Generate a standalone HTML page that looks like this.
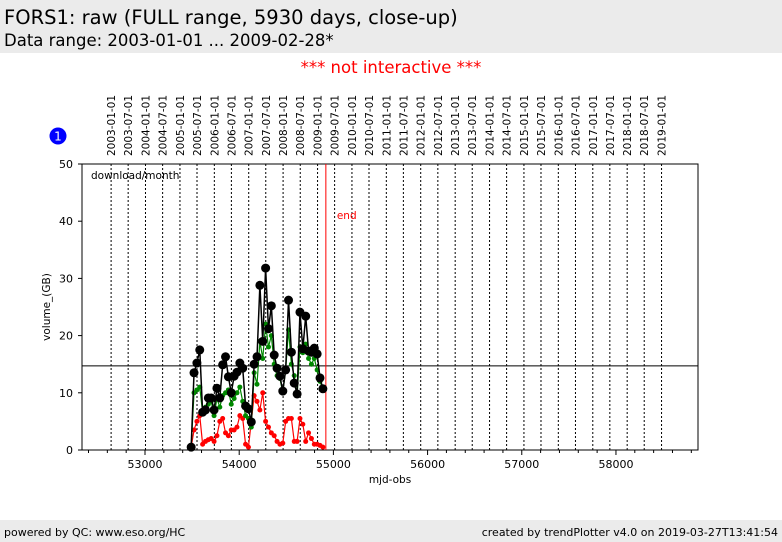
<!DOCTYPE html>
<html><head><meta charset="utf-8"><style>
body{margin:0;width:782px;height:542px;background:#fff;font-family:"DejaVu Sans","Liberation Sans",sans-serif;position:relative;overflow:hidden}
#hdr{position:absolute;left:0;top:0;width:782px;height:53px;background:#ebebeb}
#t1{position:absolute;left:4px;top:6px;font-size:19.5px}
#t2{position:absolute;left:4px;top:31px;font-size:16.5px}
#ni{position:absolute;left:0;width:782px;top:58px;text-align:center;color:#f00;font-size:16.5px}
#ftr{position:absolute;left:0;top:520px;width:782px;height:22px;background:#ebebeb;font-size:11px}
svg text{font-family:"DejaVu Sans",sans-serif}
</style></head><body>
<div id="hdr">
<div id="t1">FORS1: raw (FULL range, 5930 days, close-up)</div>
<div id="t2">Data range: 2003-01-01 ... 2009-02-28*</div></div>
<div id="ni">*** not interactive ***</div>
<svg id="c" width="782" height="542" style="position:absolute;left:0;top:0"></svg>
<div id="ftr"><span style="position:absolute;left:4px;top:6px">powered by QC: www.eso.org/HC</span><span style="position:absolute;right:4px;top:6px">created by trendPlotter v4.0 on 2019-03-27T13:41:54</span></div>
<script>
const black=[0.5,13.5,15.2,17.5,6.6,7,9.1,9.1,7,10.8,9.1,14.9,16.3,12.8,10,12.9,13.6,15.2,14.3,7.7,7.2,4.9,15,16.3,28.8,19,31.8,21.2,25.2,16.6,14.3,12.9,10.3,14,26.2,17.1,11.7,9.8,24.1,17.7,23.4,17.3,17.1,17.8,16.8,12.6,10.7];
const green=[0.5,10,10.5,11,6.5,7.5,8,8.5,6,9,7.5,9.5,10,10.5,8,9,10,11,8.5,6,5.5,4,13.5,11.5,19,16,22,18,20,15,13,12.5,10,14,21,15,13,9.5,18,17,18.5,16,15,16,14,12,10.5];
const red=[0.5,3.5,5,6,1,1.5,1.8,2,1.5,2.5,5,5.5,3,2.5,3.5,3.5,4,6,5.5,1,0.5,5,9.5,8.5,7,10,5,4,3,2.5,1.5,1,1.2,5,5.5,5.5,1.5,1.5,5.5,4.5,1.5,3,2,1,1,0.8,0.5];
const startMjd=53490, stepDays=30.4;
const yTicks=[0,10,20,30,40,50];
const xTicks=[53000,54000,55000,56000,57000,58000];
const refLevel=14.7, endMjd=54920;
const svg=document.getElementById('c'),NS='http://www.w3.org/2000/svg';
const L=82,R=698,T=164,B=450,X0=52331,X1=58871;
const X=m=>L+(m-X0)/(X1-X0)*(R-L), Y=v=>B-v/50*(B-T);
function el(t,a,p){const e=document.createElementNS(NS,t);for(const k in a)e.setAttribute(k,a[k]);(p||svg).appendChild(e);return e;}
for(let yr=2003;yr<=2019;yr++)for(const mo of [0,6]){if(yr==2019&&mo==6)continue;
 const mjd=Date.UTC(yr,mo,1)/86400000+40587,x=X(mjd);
 const l=el('line',{x1:x,x2:x,y1:T,y2:B,stroke:'#000','stroke-dasharray':'2,2','stroke-width':1});
 
 const s=`${yr}-${mo?'07':'01'}-01`;
 const t=el('text',{x:0,y:0,transform:`translate(${x+4},156) rotate(-90)`,'font-size':10.5});t.textContent=s;
 }
const fr=el('rect',{x:L,y:T,width:R-L,height:B-T,fill:'none',stroke:'#000'});

for(const v of yTicks){const y=Y(v);el('line',{x1:L-4,x2:L,y1:y,y2:y,stroke:'#000'});
 const t=el('text',{x:L-9,y:y+4,'text-anchor':'end','font-size':11});t.textContent=v;
 }
for(let m=52400;m<=58800;m+=200){const x=X(m);el('line',{x1:x,x2:x,y1:B,y2:B+(m%1000?3:5),stroke:'#000'});}
for(const m of xTicks){const t=el('text',{x:X(m),y:B+18,'text-anchor':'middle','font-size':11});t.textContent=m;
 }
let t=el('text',{x:390,y:483,'text-anchor':'middle','font-size':10.5});t.textContent='mjd-obs';

t=el('text',{x:0,y:0,transform:'translate(50,307) rotate(-90)','text-anchor':'middle','font-size':10.5});t.textContent='volume_(GB)';

t=el('text',{x:91,y:179,'font-size':10.5});t.textContent='download/month';

const hl=el('line',{x1:L,x2:R,y1:Y(refLevel),y2:Y(refLevel),stroke:'#000'});

const ex=X(endMjd);const en=el('line',{x1:ex,x2:ex,y1:T,y2:B,stroke:'#f00'});

t=el('text',{x:ex+11,y:219,'font-size':10.5,fill:'#f00'});t.textContent='end';

function series(d,col,r,w,name){const pts=d.map((v,i)=>[X(startMjd+i*stepDays),Y(v)]);
 const g=el('g',{});
 el('polyline',{points:pts.map(p=>p.join(',')).join(' '),fill:'none',stroke:col,'stroke-width':w},g);
 for(const p of pts){const c=el('circle',{cx:p[0],cy:p[1],r:r,fill:col},g);}}
series(red,'#f00',2.5,1.2,'red-series');
series(green,'#080',2.5,1.2,'green-series');
series(black,'#000',4.5,1.5,'black-series');
const b=el('circle',{cx:58,cy:136,r:8.5,fill:'#00f'});
t=el('text',{x:58,y:140.5,'text-anchor':'middle','font-size':12,fill:'#fff'});t.textContent='1';

</script>
</body></html>
